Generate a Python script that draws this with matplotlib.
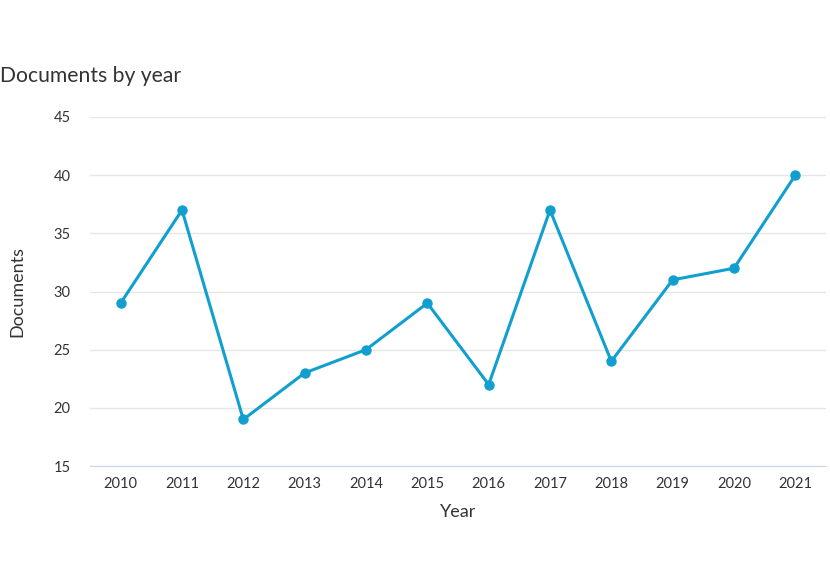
import matplotlib
matplotlib.use("Agg")
import matplotlib.pyplot as plt

years = ["2010", "2011", "2012", "2013", "2014", "2015", "2016", "2017", "2018", "2019", "2020", "2021"]
documents = [29, 37, 19, 23, 25, 29, 22, 37, 24, 31, 32, 40]

plt.rcParams['font.family'] = ['Lato', 'DejaVu Sans']

fig = plt.figure(figsize=(8.3, 5.87), dpi=100)
ax = fig.add_axes([90/830, 121/587, 736/830, 349/587])

x = list(range(len(years)))
ax.plot(x, documents, color="#119fcf", lw=2.2, marker="o", ms=6.5, zorder=3)

ax.set_xlim(-0.5, len(years) - 0.5)
ax.set_ylim(15, 45)
ax.set_yticks([15, 20, 25, 30, 35, 40, 45])
ax.set_xticks(x)
ax.set_xticklabels(years)
ax.grid(axis="y", color="#e6e6e6", lw=1)
ax.set_axisbelow(True)
for s in ["top", "right", "left"]:
    ax.spines[s].set_visible(False)
ax.spines["bottom"].set_color("#ccd6eb")
ax.tick_params(length=0, labelsize=10.5, colors="#333333")
ax.tick_params(axis="y", pad=14)
ax.tick_params(axis="x", pad=8)

ax.set_xlabel("Year", fontsize=13, color="#333333", labelpad=9)
ax.set_ylabel("Documents", fontsize=13, color="#333333", labelpad=20)
fig.text(0.0, 511/587, "Documents by year", fontsize=15.2, color="#333333", va="center", ha="left")

fig.savefig("out.png", dpi=100)
